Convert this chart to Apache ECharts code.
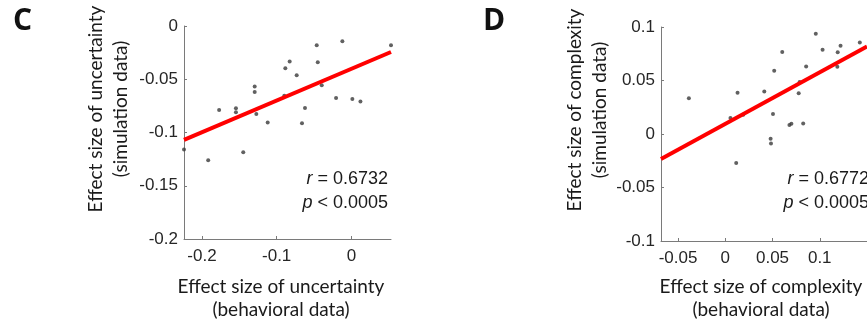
<!DOCTYPE html>
<html>
<head>
<meta charset="utf-8">
<script src="https://cdn.jsdelivr.net/npm/echarts@6/dist/echarts.min.js"></script>
<style>
  html, body { margin: 0; padding: 0; background: #fff; }
  #main { width: 867px; height: 326px; }
</style>
</head>
<body>
<div id="main"></div>
<script>
// Panel C: uncertainty (behavioral x, simulation y)
const uncertBehav = [-0.224, -0.1916, -0.177, -0.1545, -0.1545, -0.1447, -0.1294, -0.1294, -0.1272, -0.112,
  -0.0898, -0.0884, -0.0826, -0.0732, -0.0661, -0.0621, -0.0464, -0.045, -0.0397, -0.0205, -0.0121, 0.0013, 0.0121, 0.053];
const uncertSim = [-0.116, -0.126, -0.0789, -0.0773, -0.081, -0.1186, -0.0569, -0.062, -0.0826, -0.0907,
  -0.0654, -0.0397, -0.0334, -0.0463, -0.0914, -0.077, -0.0181, -0.0341, -0.0557, -0.0676, -0.0144, -0.0685, -0.071, -0.0181];
const uncertFitX = [-0.224, 0.053];
const uncertFitY = [-0.107, -0.0244];

// Panel D: complexity
const complexBehav = [-0.0385, 0.0055, 0.013, 0.0116, 0.019, 0.0413, 0.0505, 0.0518, 0.048, 0.0484, 0.0603, 0.0679,
  0.07, 0.0777, 0.0787, 0.0825, 0.0856, 0.0958, 0.103, 0.119, 0.1186, 0.122, 0.1424];
const complexSim = [0.0333, 0.015, 0.0386, -0.0271, 0.018, 0.0398, 0.0187, 0.0592, -0.0044, -0.0088, 0.0766, 0.0084,
  0.0096, 0.038, 0.0486, 0.0099, 0.0632, 0.0937, 0.0788, 0.0763, 0.0629, 0.0825, 0.0856];
const complexFitX = [-0.068, 0.15];
const complexFitY = [-0.0234, 0.0817];

const uncertYTicks = [-0.2, -0.15, -0.1, -0.05, 0];
const uncertXTicks = [-0.2, -0.1, 0];
const complexYTicks = [-0.1, -0.05, 0, 0.05, 0.1];
const complexXTicks = [-0.05, 0, 0.05, 0.1];

const axisGray = '#7a7a7a';
const labelColor = '#262626';
const titleFont = 'Lato';
const tickFont = 'Liberation Sans';

function pairs(xs, ys) {
  return xs.map((x, i) => [x, ys[i]]);
}

function makeAxis(min, max, ticks, isX) {
  return {
    type: 'value',
    min: min,
    max: max,
    axisLine: { show: true, onZero: false, lineStyle: { color: axisGray, width: 1 } },
    axisTick: { show: true, inside: true, length: 3, lineStyle: { color: axisGray }, customValues: ticks },
    axisLabel: {
      customValues: ticks,
      color: labelColor,
      fontFamily: tickFont,
      fontSize: 17,
      margin: isX ? 9 : 6
    },
    splitLine: { show: false }
  };
}

const chart = echarts.init(document.getElementById('main'));

const titleStyle = { fill: '#1a1a1a', font: '19px ' + titleFont, textAlign: 'center', textVerticalAlign: 'middle' };
const statFont = '18px "Liberation Sans"';
const statRich = { i: { fontStyle: 'italic', fontFamily: 'Liberation Sans', fontSize: 18 } };

chart.setOption({
  animation: false,
  grid: [
    { left: 184, top: 26, width: 207, height: 213 },
    { left: 661, top: 27, width: 213, height: 214 }
  ],
  xAxis: [
    Object.assign(makeAxis(-0.224, 0.053, uncertXTicks, true), { gridIndex: 0 }),
    Object.assign(makeAxis(-0.068, 0.15, complexXTicks, true), { gridIndex: 1 })
  ],
  yAxis: [
    Object.assign(makeAxis(-0.2, 0, uncertYTicks, false), { gridIndex: 0 }),
    Object.assign(makeAxis(-0.1, 0.1, complexYTicks, false), { gridIndex: 1 })
  ],
  series: [
    {
      type: 'scatter', xAxisIndex: 0, yAxisIndex: 0, clip: false,
      symbolSize: 4, itemStyle: { color: '#3a3a3a' },
      data: pairs(uncertBehav, uncertSim)
    },
    {
      type: 'line', xAxisIndex: 0, yAxisIndex: 0, symbol: 'none',
      lineStyle: { color: '#ff0000', width: 4 },
      data: pairs(uncertFitX, uncertFitY)
    },
    {
      type: 'scatter', xAxisIndex: 1, yAxisIndex: 1, clip: false,
      symbolSize: 4, itemStyle: { color: '#3a3a3a' },
      data: pairs(complexBehav, complexSim)
    },
    {
      type: 'line', xAxisIndex: 1, yAxisIndex: 1, symbol: 'none',
      lineStyle: { color: '#ff0000', width: 4 },
      data: pairs(complexFitX, complexFitY)
    }
  ],
  graphic: [
    { type: 'text', x: 13, y: 6, style: { text: 'C', fill: '#111', font: 'bold 30px "Open Sans"' } },
    { type: 'text', x: 483, y: 6, style: { text: 'D', fill: '#111', font: 'bold 30px "Open Sans"' } },

    { type: 'text', x: 96, y: 109, rotation: Math.PI / 2, style: Object.assign({ text: 'Effect size of uncertainty' }, titleStyle) },
    { type: 'text', x: 121, y: 109, rotation: Math.PI / 2, style: Object.assign({ text: '(simulation data)' }, titleStyle) },
    { type: 'text', x: 281, y: 287, style: Object.assign({ text: 'Effect size of uncertainty' }, titleStyle) },
    { type: 'text', x: 281, y: 310, style: Object.assign({ text: '(behavioral data)' }, titleStyle) },

    { type: 'text', x: 575, y: 110, rotation: Math.PI / 2, style: Object.assign({ text: 'Effect size of complexity' }, titleStyle) },
    { type: 'text', x: 600, y: 110, rotation: Math.PI / 2, style: Object.assign({ text: '(simulation data)' }, titleStyle) },
    { type: 'text', x: 761, y: 287, style: Object.assign({ text: 'Effect size of complexity' }, titleStyle) },
    { type: 'text', x: 761, y: 310, style: Object.assign({ text: '(behavioral data)' }, titleStyle) },

    { type: 'text', x: 388, y: 179, style: {
      text: '{i|r} = 0.6732', textAlign: 'right', textVerticalAlign: 'middle', font: statFont, fill: '#1a1a1a', rich: statRich } },
    { type: 'text', x: 388, y: 203, style: {
      text: '{i|p} < 0.0005', textAlign: 'right', textVerticalAlign: 'middle', font: statFont, fill: '#1a1a1a', rich: statRich } },
    { type: 'text', x: 869, y: 179, style: {
      text: '{i|r} = 0.6772', textAlign: 'right', textVerticalAlign: 'middle', font: statFont, fill: '#1a1a1a', rich: statRich } },
    { type: 'text', x: 869, y: 203, style: {
      text: '{i|p} < 0.0005', textAlign: 'right', textVerticalAlign: 'middle', font: statFont, fill: '#1a1a1a', rich: statRich } }
  ]
});
</script>
</body>
</html>
